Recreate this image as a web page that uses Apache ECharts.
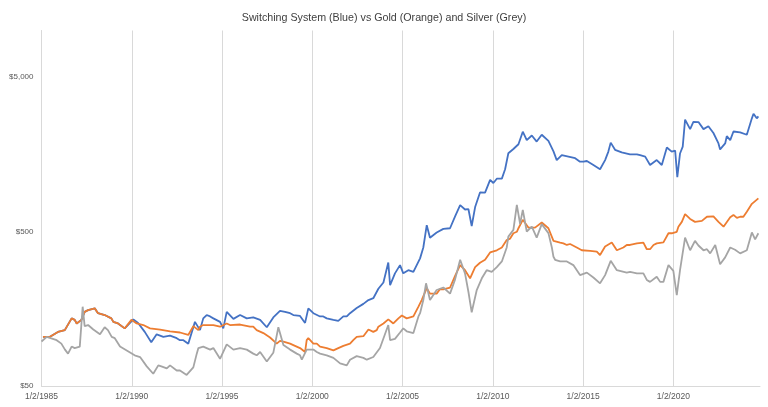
<!DOCTYPE html>
<html>
<head>
<meta charset="utf-8">
<script src="https://cdn.jsdelivr.net/npm/echarts@6/dist/echarts.min.js"></script>
<style>html,body{margin:0;padding:0;background:#fff}#chart{width:768px;height:407px}</style>
</head>
<body>
<div id="chart"></div>
<script>
// Each point is [decimal year (1/2/1985 = 1985.0), value in dollars]; the y axis is logarithmic.
const chartTitle = 'Switching System (Blue) vs Gold (Orange) and Silver (Grey)';
const xTickYears = [1985, 1990, 1995, 2000, 2005, 2010, 2015, 2020];
const yTickValues = [50, 500, 5000];

const goldSeries = [
  [1985.08,104],[1985.47,104],[1985.91,112],[1986.02,112],[1986.29,115],[1986.40,112],[1986.67,137],[1986.84,134],[1986.95,127],
  [1987.21,134],[1987.39,151],[1987.58,155],[1987.95,159],[1988.13,148],[1988.24,144],[1988.50,144],[1988.61,141],[1988.87,137],
  [1988.98,130],[1989.24,127],[1989.35,124],[1989.61,118],[1989.72,118],[1989.98,134],[1990.27,127],[1990.35,124],[1990.64,124],
  [1990.72,121],[1991.01,118],[1991.08,118],[1991.57,116],[1992.12,113],[1992.67,111],[1993.13,107],[1993.23,107],[1993.41,122],
  [1993.69,115],[1993.78,121],[1993.96,124],[1994.34,124],[1994.52,124],[1994.89,121],[1995.26,127],[1995.44,124],[1996.00,125],
  [1996.55,121],[1996.73,121],[1996.92,115],[1997.29,110],[1997.66,103],[1998.03,94],[1998.21,98],[1998.40,97],[1998.77,94],
  [1998.95,92],[1999.32,88],[1999.60,83],[1999.69,99],[1999.78,102],[2000.06,94],[2000.25,94],[2000.43,90],[2000.80,88],
  [2001.17,85],[2001.44,88],[2001.72,91],[2002.09,94],[2002.27,99],[2002.46,104],[2002.83,105],[2003.11,116],[2003.38,112],
  [2003.57,115],[2003.66,121],[2003.94,127],[2004.21,135],[2004.49,127],[2004.77,137],[2004.96,143],[2005.04,141],[2005.23,137],
  [2005.60,141],[2005.88,163],[2006.06,180],[2006.34,215],[2006.52,198],[2006.89,198],[2007.08,212],[2007.26,211],[2007.63,217],
  [2007.91,258],[2008.19,303],[2008.46,281],[2008.74,249],[2009.02,294],[2009.29,314],[2009.57,328],[2009.85,366],[2010.22,378],
  [2010.50,394],[2010.77,440],[2010.96,450],[2011.14,487],[2011.33,498],[2011.42,525],[2011.66,595],[2011.97,530],[2012.34,530],
  [2012.71,572],[2013.08,525],[2013.36,435],[2013.73,424],[2013.91,419],[2014.10,409],[2014.28,415],[2014.65,394],[2014.93,378],
  [2015.02,384],[2015.39,375],[2015.76,371],[2015.94,352],[2016.22,400],[2016.59,424],[2016.87,378],[2017.23,394],[2017.42,409],
  [2017.60,409],[2017.98,419],[2018.34,424],[2018.53,384],[2018.71,384],[2018.90,409],[2019.08,419],[2019.45,425],[2019.73,487],
  [2019.91,487],[2020.00,498],[2020.19,498],[2020.28,537],[2020.47,577],[2020.65,647],[2020.93,603],[2021.20,577],[2021.58,586],
  [2021.86,623],[2022.22,626],[2022.50,577],[2022.78,537],[2023.15,618],[2023.33,640],[2023.52,612],[2023.70,623],[2023.88,623],
  [2024.07,671],[2024.35,755],[2024.71,820]
];

const systemSeries = [
  [1985.08,104],[1985.47,104],[1985.91,112],[1986.02,112],[1986.29,115],[1986.40,112],[1986.67,137],[1986.84,134],[1986.95,127],
  [1987.21,134],[1987.39,151],[1987.58,155],[1987.95,159],[1988.13,148],[1988.24,144],[1988.50,144],[1988.61,141],[1988.87,137],
  [1988.98,130],[1989.24,127],[1989.35,124],[1989.61,118],[1989.72,118],[1990.09,135],[1990.35,128],[1990.72,112],[1991.08,96],
  [1991.38,108],[1991.75,104],[1992.12,106],[1992.49,102],[1992.67,99],[1992.86,99],[1993.13,94],[1993.50,130],[1993.60,130],
  [1993.78,115],[1993.96,137],[1994.15,144],[1994.34,141],[1994.52,137],[1994.89,130],[1995.07,118],[1995.26,151],[1995.63,136],
  [1996.00,144],[1996.37,137],[1996.73,139],[1997.11,134],[1997.48,120],[1997.84,139],[1998.21,153],[1998.49,151],[1998.77,148],
  [1998.95,144],[1999.32,142],[1999.60,128],[1999.78,159],[2000.06,148],[2000.43,141],[2000.61,141],[2000.80,137],[2001.17,134],
  [2001.44,132],[2001.72,141],[2001.91,141],[2002.09,148],[2002.46,160],[2002.83,170],[2003.11,180],[2003.38,185],[2003.66,213],
  [2003.94,234],[2004.21,315],[2004.31,225],[2004.58,268],[2004.86,303],[2005.04,268],[2005.32,281],[2005.60,274],[2005.97,335],
  [2006.15,394],[2006.34,549],[2006.52,456],[2006.89,492],[2007.26,520],[2007.63,525],[2007.91,627],[2008.19,740],[2008.46,694],
  [2008.65,697],[2008.83,543],[2009.02,720],[2009.29,895],[2009.57,893],[2009.85,1080],[2010.03,1030],[2010.22,1098],[2010.50,1100],
  [2010.68,1265],[2010.86,1605],[2011.14,1710],[2011.42,1836],[2011.66,2213],[2011.88,1950],[2012.16,2090],[2012.43,1910],
  [2012.71,2115],[2013.08,1930],[2013.36,1650],[2013.54,1450],[2013.82,1560],[2014.19,1527],[2014.56,1490],[2014.83,1415],
  [2015.02,1415],[2015.21,1430],[2015.57,1347],[2015.94,1265],[2016.22,1450],[2016.40,1645],[2016.53,1880],[2016.77,1690],
  [2017.14,1625],[2017.60,1580],[2017.98,1580],[2018.16,1560],[2018.44,1527],[2018.71,1347],[2019.08,1450],[2019.36,1347],
  [2019.64,1750],[2019.91,1645],[2020.10,1670],[2020.22,1125],[2020.37,1600],[2020.52,1770],[2020.65,2650],[2020.93,2300],
  [2021.11,2560],[2021.39,2555],[2021.67,2300],[2021.94,2400],[2022.22,2170],[2022.50,1858],[2022.59,1700],[2022.87,1858],
  [2022.96,2070],[2023.15,1950],[2023.33,2220],[2023.70,2190],[2024.07,2115],[2024.35,2700],[2024.44,2890],[2024.62,2700],
  [2024.71,2780]
];

const silverSeries = [
  [1985.00,97],[1985.29,104],[1985.84,99],[1986.10,94],[1986.30,86],[1986.47,81],[1986.67,90],[1986.84,88],[1987.12,90],
  [1987.28,163],[1987.39,122],[1987.58,124],[1987.87,116],[1988.24,108],[1988.50,120],[1988.68,115],[1988.89,104],[1989.06,102],
  [1989.35,90],[1989.79,84],[1990.16,79],[1990.46,77],[1990.83,67],[1991.19,60],[1991.47,68],[1991.64,67],[1991.94,65],
  [1992.12,68],[1992.49,63],[1992.67,63],[1993.04,59],[1993.41,66],[1993.60,81],[1993.69,88],[1993.96,90],[1994.34,86],
  [1994.52,88],[1994.89,75],[1995.26,93],[1995.63,86],[1996.00,88],[1996.37,86],[1996.73,81],[1996.92,79],[1997.11,83],
  [1997.48,72],[1997.84,82],[1998.12,120],[1998.40,92],[1998.77,86],[1999.14,81],[1999.32,79],[1999.42,74],[1999.69,86],
  [2000.06,86],[2000.25,83],[2000.43,81],[2000.80,79],[2001.17,76],[2001.54,70],[2001.91,68],[2002.09,74],[2002.46,78],
  [2002.83,76],[2003.02,74],[2003.38,77],[2003.75,88],[2003.85,88],[2004.21,124],[2004.31,99],[2004.58,101],[2004.86,111],
  [2005.04,118],[2005.23,113],[2005.60,110],[2005.88,141],[2005.97,148],[2006.15,180],[2006.30,231],[2006.52,180],[2006.89,209],
  [2007.26,217],[2007.63,198],[2007.91,245],[2008.19,328],[2008.46,268],[2008.65,203],[2008.83,150],[2009.11,209],[2009.39,249],
  [2009.66,281],[2009.94,274],[2010.22,294],[2010.50,320],[2010.77,394],[2010.86,463],[2011.14,512],[2011.33,743],[2011.51,560],
  [2011.66,690],[2011.88,500],[2012.16,537],[2012.43,456],[2012.71,558],[2013.08,488],[2013.27,394],[2013.36,343],[2013.45,328],
  [2013.73,320],[2014.10,320],[2014.46,303],[2014.83,261],[2015.21,271],[2015.57,252],[2015.94,231],[2016.22,261],[2016.53,323],
  [2016.87,281],[2017.42,271],[2017.60,274],[2017.98,268],[2018.34,268],[2018.53,243],[2018.71,236],[2019.08,255],[2019.27,236],
  [2019.45,236],[2019.73,303],[2020.00,278],[2020.19,194],[2020.37,281],[2020.65,456],[2020.93,378],[2021.20,435],[2021.39,406],
  [2021.67,378],[2021.86,384],[2022.04,361],[2022.32,409],[2022.59,307],[2022.87,340],[2023.15,394],[2023.42,381],[2023.70,361],
  [2024.07,378],[2024.35,493],[2024.53,445],[2024.71,487]
];

const FONT = '"Liberation Sans", Arial, sans-serif';
const chart = echarts.init(document.getElementById('chart'), null, {renderer: 'canvas'});
chart.setOption({
  animation: false,
  backgroundColor: '#ffffff',
  title: {
    text: chartTitle, left: 'center', top: 8,
    textStyle: {fontFamily: FONT, fontSize: 10.7, fontWeight: 'normal', color: '#404040'}
  },
  grid: {left: 41.5, right: 8, top: 30.5, bottom: 21},
  xAxis: {
    type: 'value',
    min: 1985, max: 2024.8,
    axisLine: {show: true, lineStyle: {color: '#d9d9d9', width: 1}},
    axisTick: {show: false, customValues: xTickYears},
    splitLine: {show: true, lineStyle: {color: '#d9d9d9', width: 1}},
    axisLabel: {
      customValues: xTickYears,
      formatter: v => '1/2/' + Math.round(v),
      fontFamily: FONT, fontSize: 8.5, color: '#595959', margin: 6
    }
  },
  yAxis: {
    type: 'log', logBase: 10, min: 50, max: 10000,
    axisLine: {show: true, lineStyle: {color: '#d9d9d9', width: 1}},
    axisTick: {show: false, customValues: yTickValues},
    splitLine: {show: false},
    axisLabel: {
      customValues: yTickValues,
      formatter: v => '$' + Math.round(v).toLocaleString('en-US'),
      fontFamily: FONT, fontSize: 8, color: '#595959', margin: 8
    }
  },
  series: [
    {name: 'Switching System', type: 'line', data: systemSeries, showSymbol: false, z: 2,
     lineStyle: {color: '#4472C4', width: 1.8}, itemStyle: {color: '#4472C4'}},
    {name: 'Gold', type: 'line', data: goldSeries, showSymbol: false, z: 3,
     lineStyle: {color: '#ED7D31', width: 1.8}, itemStyle: {color: '#ED7D31'}},
    {name: 'Silver', type: 'line', data: silverSeries, showSymbol: false, z: 4,
     lineStyle: {color: '#A5A5A5', width: 1.8}, itemStyle: {color: '#A5A5A5'}}
  ]
});
</script>
</body>
</html>
